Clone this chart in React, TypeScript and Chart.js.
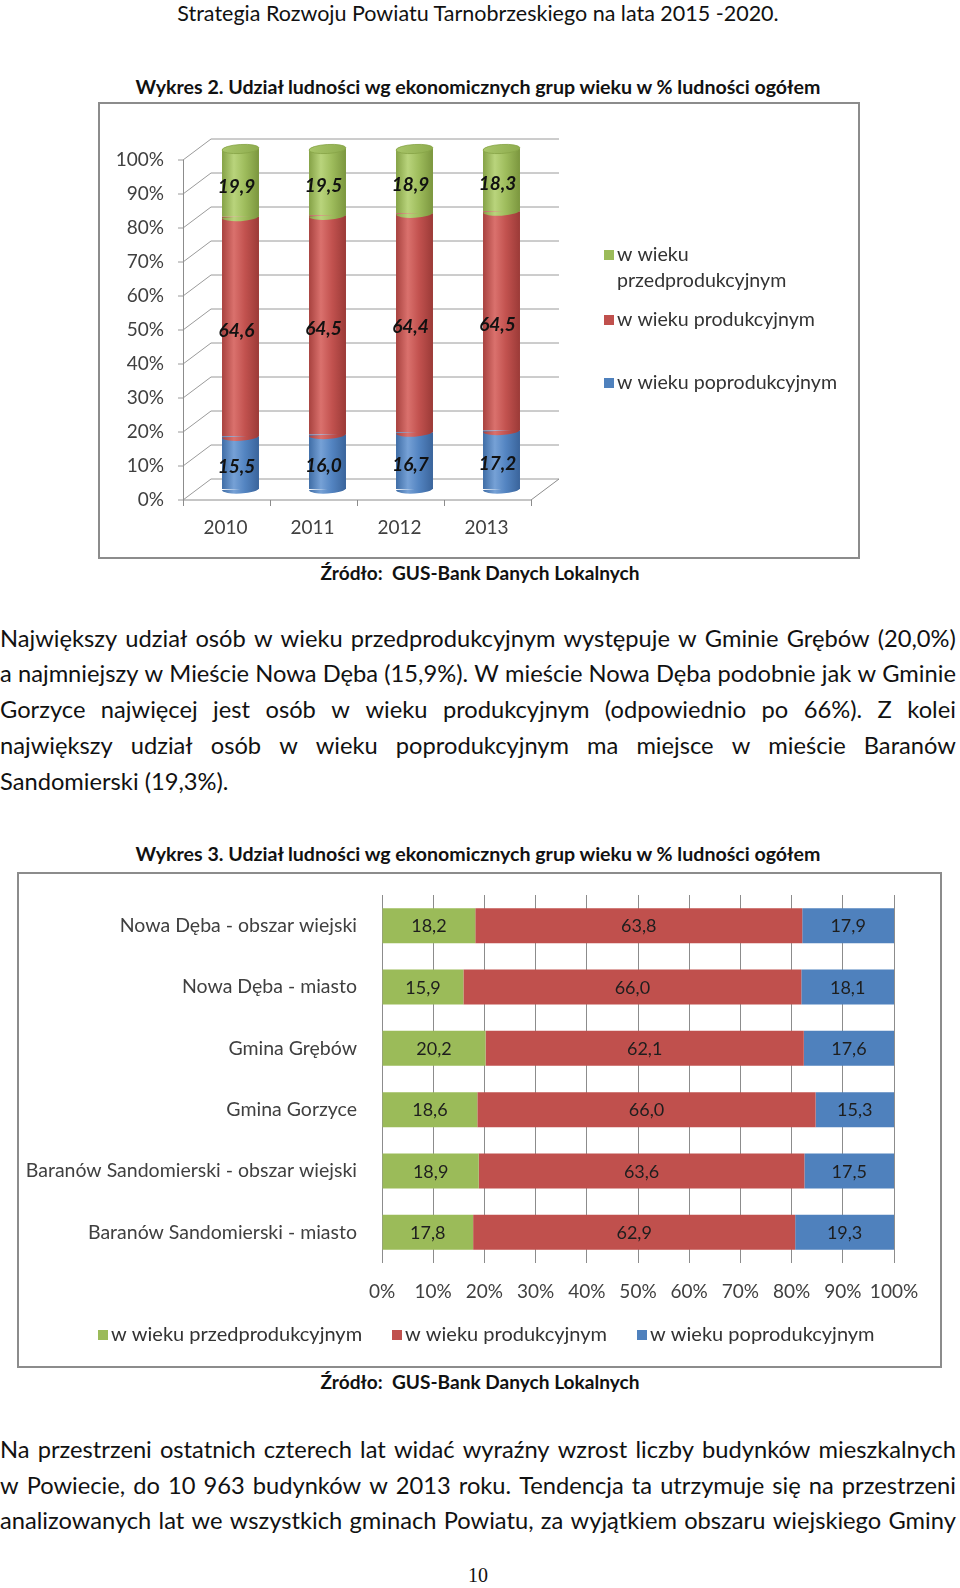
import React, { useEffect, useRef } from "react";
import { Chart, registerables } from "chart.js";

Chart.register(...registerables);

const FONT = "Lato, 'Open Sans', sans-serif";

// ---------- Data: chart 1 (Wykres 2) ----------
const YEARS = ["2010", "2011", "2012", "2013"];
const PRE_1 = [19.9, 19.5, 18.9, 18.3];
const PROD_1 = [64.6, 64.5, 64.4, 64.5];
const POST_1 = [15.5, 16.0, 16.7, 17.2];

// ---------- Data: chart 2 (Wykres 3) ----------
const AREAS = [
  "Nowa Dęba - obszar wiejski",
  "Nowa Dęba - miasto",
  "Gmina Grębów",
  "Gmina Gorzyce",
  "Baranów Sandomierski - obszar wiejski",
  "Baranów Sandomierski - miasto",
];
const PRE_2 = [18.2, 15.9, 20.2, 18.6, 18.9, 17.8];
const PROD_2 = [63.8, 66.0, 62.1, 66.0, 63.6, 62.9];
const POST_2 = [17.9, 18.1, 17.6, 15.3, 17.5, 19.3];

const SERIES = ["w wieku przedprodukcyjnym", "w wieku produkcyjnym", "w wieku poprodukcyjnym"];
const LEGEND1_LINES = [["w wieku", "przedprodukcyjnym"], ["w wieku produkcyjnym"], ["w wieku poprodukcyjnym"]];
const TICK_STEP = 10;

const GREEN = "#9bbb59";
const RED = "#c0504d";
const BLUE = "#4f81bd";
const COLORS = [GREEN, RED, BLUE];
const SHADES = [
  ["#85a246", "#b9d47c", "#9ebc5c", "#7b963e"],
  ["#a8423f", "#da716d", "#c2524f", "#9b3a37"],
  ["#3f6da6", "#76a1d6", "#5384c1", "#3a649b"],
];

const fmt = (v: number) => v.toFixed(1).replace(".", ",");

function cylGrad(ctx: CanvasRenderingContext2D, cx: number, half: number, s: string[]) {
  const g = ctx.createLinearGradient(cx - half, 0, cx + half, 0);
  g.addColorStop(0, s[0]);
  g.addColorStop(0.32, s[1]);
  g.addColorStop(0.62, s[2]);
  g.addColorStop(1, s[3]);
  return g;
}

const noPad = (s: any) => {
  s.paddingTop = 0;
  s.paddingBottom = 0;
  s.paddingLeft = 0;
  s.paddingRight = 0;
};

// ---------- Chart 1 ----------
const BAR_PCT_1 = 0.425;
const DX = 14;
const DY = 10.5;
const RY = 4.5;

// series index in SERIES for chart-1 datasets (bottom to top)
const ORDER_1 = [2, 1, 0];
const VALUES_1 = [POST_1, PROD_1, PRE_1];

const grid3d = {
  id: "grid3d",
  beforeDatasetsDraw(chart: any) {
    const { ctx, chartArea } = chart;
    const ys = chart.scales.y;
    const { left, right } = chartArea;
    ctx.save();
    ctx.strokeStyle = "#9a9a9a";
    ctx.lineWidth = 1;
    for (const t of ys.ticks) {
      const y = Math.round(ys.getPixelForValue(t.value)) + 0.5;
      ctx.beginPath();
      ctx.moveTo(left - DX, y + DY);
      ctx.lineTo(left + DX, y - DY);
      ctx.lineTo(right + DX, y - DY);
      ctx.stroke();
      ctx.beginPath();
      ctx.moveTo(left - DX - 5, y + DY);
      ctx.lineTo(left - DX, y + DY);
      ctx.stroke();
    }
    const y0 = Math.round(ys.getPixelForValue(0)) + 0.5;
    const y100 = Math.round(ys.getPixelForValue(100)) + 0.5;
    ctx.strokeStyle = "#8c8c8c";
    ctx.beginPath();
    ctx.moveTo(Math.round(left - DX) + 0.5, y100 + DY);
    ctx.lineTo(Math.round(left - DX) + 0.5, y0 + DY);
    ctx.lineTo(right - DX, y0 + DY);
    ctx.lineTo(right + DX, y0 - DY);
    ctx.stroke();
    const n = YEARS.length;
    for (let i = 0; i <= n; i++) {
      const x = Math.round(left - DX + (i * (right - left)) / n) + 0.5;
      ctx.beginPath();
      ctx.moveTo(x, y0 + DY);
      ctx.lineTo(x, y0 + DY + 6);
      ctx.stroke();
    }
    ctx.restore();
  },
};

const cylinders = {
  id: "cylinders",
  afterDatasetsDraw(chart: any) {
    const { ctx } = chart;
    const metas = [0, 1, 2].map((i) => chart.getDatasetMeta(i));
    ctx.save();
    for (let j = 0; j < YEARS.length; j++) {
      metas.forEach((m: any, k: number) => {
        const el = m.data[j];
        const p = el.getProps(["x", "y", "base", "width"], true);
        const rx = p.width / 2;
        const s = SHADES[ORDER_1[k]];
        ctx.fillStyle = cylGrad(ctx, p.x, rx, s);
        ctx.beginPath();
        ctx.ellipse(p.x, p.base, rx, RY, -0.06, 0, Math.PI);
        ctx.fill();
        if (k === metas.length - 1) {
          const g = ctx.createLinearGradient(p.x - rx, p.y - RY, p.x + rx, p.y + RY);
          g.addColorStop(0, "#a9c66a");
          g.addColorStop(1, "#8dab4d");
          ctx.fillStyle = g;
          ctx.beginPath();
          ctx.ellipse(p.x, p.y, rx, RY, -0.06, 0, Math.PI * 2);
          ctx.fill();
          ctx.strokeStyle = "#86a346";
          ctx.lineWidth = 0.8;
          ctx.stroke();
        }
      });
    }
    // data labels
    ctx.font = `italic bold 19px ${FONT}`;
    ctx.fillStyle = "#111";
    ctx.textAlign = "center";
    ctx.textBaseline = "middle";
    metas.forEach((m: any, k: number) => {
      m.data.forEach((el: any, j: number) => {
        const p = el.getProps(["x", "y", "base"], true);
        ctx.fillText(fmt(VALUES_1[k][j]), p.x - 4, (p.y + p.base) / 2 + 4);
      });
    });
    ctx.restore();
  },
};

const legend1 = {
  id: "legend1",
  afterDraw(chart: any) {
    const { ctx } = chart;
    const items = [
      { y: 151, color: GREEN, lines: LEGEND1_LINES[0] },
      { y: 216, color: RED, lines: LEGEND1_LINES[1] },
      { y: 279, color: BLUE, lines: LEGEND1_LINES[2] },
    ];
    ctx.save();
    ctx.font = `19.6px ${FONT}`;
    ctx.textAlign = "left";
    ctx.textBaseline = "middle";
    for (const it of items) {
      ctx.fillStyle = it.color;
      ctx.fillRect(504, it.y - 5, 10, 10);
      ctx.fillStyle = "#333";
      it.lines.forEach((ln, i) => ctx.fillText(ln, 517, it.y + i * 26));
    }
    ctx.restore();
  },
};

function Chart1() {
  const ref = useRef<HTMLCanvasElement>(null);
  useEffect(() => {
    const fill = (k: number) => (c: any) => {
      const chart = c.chart;
      if (!chart.chartArea || c.type !== "data") return COLORS[ORDER_1[k]];
      const xs = chart.scales.x;
      const cx = xs.getPixelForValue(c.dataIndex);
      const half = ((xs.width / YEARS.length) * BAR_PCT_1) / 2;
      return cylGrad(chart.ctx, cx, half, SHADES[ORDER_1[k]]);
    };
    const chart = new Chart(ref.current as HTMLCanvasElement, {
      type: "bar",
      data: {
        labels: YEARS,
        datasets: VALUES_1.map((vals, k) => ({
          label: SERIES[ORDER_1[k]],
          data: vals,
          backgroundColor: fill(k),
          borderWidth: 0,
        })),
      },
      options: {
        responsive: false,
        animation: false,
        layout: { padding: { left: 0, right: 313, top: 45, bottom: 0 } },
        plugins: { legend: { display: false }, tooltip: { enabled: false } },
        datasets: { bar: { categoryPercentage: 1, barPercentage: BAR_PCT_1 } },
        scales: {
          x: {
            stacked: true,
            grid: { display: false, drawTicks: false },
            border: { display: false },
            ticks: {
              font: { family: FONT, size: 19 },
              color: "#404040",
              padding: 27,
              labelOffset: -15,
              maxRotation: 0,
              minRotation: 0,
            },
            afterFit: (s: any) => {
              s.height = 68;
              noPad(s);
            },
          },
          y: {
            stacked: true,
            min: 0,
            max: 100,
            grid: { display: false, drawTicks: false },
            border: { display: false },
            ticks: {
              stepSize: TICK_STEP,
              callback: (v: any) => v + "%",
              font: { family: FONT, size: 19 },
              color: "#404040",
              padding: 33,
              labelOffset: 11,
            },
            afterFit: (s: any) => {
              s.width = 97;
              noPad(s);
            },
          },
        },
      } as any,
      plugins: [grid3d, cylinders, legend1],
    });
    return () => chart.destroy();
  }, []);
  return <canvas ref={ref} width={758} height={453} style={{ width: 758, height: 453, display: "block" }} />;
}

// ---------- Chart 2 ----------
const labels2 = {
  id: "labels2",
  afterDatasetsDraw(chart: any) {
    const { ctx } = chart;
    const raw = [PRE_2, PROD_2, POST_2];
    ctx.save();
    ctx.font = `18px ${FONT}`;
    ctx.fillStyle = "#1e1e1e";
    ctx.textAlign = "center";
    ctx.textBaseline = "middle";
    [0, 1, 2].forEach((k) => {
      chart.getDatasetMeta(k).data.forEach((el: any, j: number) => {
        const p = el.getProps(["x", "y", "base"], true);
        ctx.fillText(fmt(raw[k][j]), (p.x + p.base) / 2, p.y + 1);
      });
    });
    ctx.restore();
  },
};

const legend2 = {
  id: "legend2",
  afterDraw(chart: any) {
    const { ctx } = chart;
    const xs = [79, 373, 618];
    ctx.save();
    ctx.font = `20px ${FONT}`;
    ctx.textAlign = "left";
    ctx.textBaseline = "middle";
    SERIES.forEach((name, k) => {
      ctx.fillStyle = COLORS[k];
      ctx.fillRect(xs[k], 456, 10, 10);
      ctx.fillStyle = "#333";
      ctx.fillText(name, xs[k] + 13, 461);
    });
    ctx.restore();
  },
};

function Chart2() {
  const ref = useRef<HTMLCanvasElement>(null);
  useEffect(() => {
    const totals = AREAS.map((_, i) => PRE_2[i] + PROD_2[i] + POST_2[i]);
    const pct = (arr: number[]) => arr.map((v, i) => (v / totals[i]) * 100);
    const chart = new Chart(ref.current as HTMLCanvasElement, {
      type: "bar",
      data: {
        labels: AREAS,
        datasets: [PRE_2, PROD_2, POST_2].map((vals, k) => ({
          label: SERIES[k],
          data: pct(vals),
          backgroundColor: COLORS[k],
          borderWidth: 0,
        })),
      },
      options: {
        indexAxis: "y",
        responsive: false,
        animation: false,
        layout: { padding: { left: 0, right: 46, top: 21, bottom: 0 } },
        plugins: { legend: { display: false }, tooltip: { enabled: false } },
        datasets: { bar: { categoryPercentage: 1, barPercentage: 0.57 } },
        scales: {
          x: {
            stacked: true,
            min: 0,
            max: 100,
            grid: { color: "#8c8c8c", drawTicks: false, lineWidth: 1 },
            border: { display: false },
            ticks: {
              stepSize: TICK_STEP,
              callback: (v: any) => v + "%",
              font: { family: FONT, size: 19 },
              color: "#404040",
              padding: 17,
              maxRotation: 0,
              minRotation: 0,
              autoSkip: false,
            },
            afterFit: (s: any) => {
              s.height = 103;
              noPad(s);
            },
          },
          y: {
            stacked: true,
            grid: { display: false, drawTicks: false },
            border: { display: false },
            ticks: { font: { family: FONT, size: 19.5 }, color: "#404040", padding: 25 },
            afterFit: (s: any) => {
              s.width = 363;
              noPad(s);
            },
          },
        },
      } as any,
      plugins: [labels2, legend2],
    });
    return () => chart.destroy();
  }, []);
  return <canvas ref={ref} width={921} height={492} style={{ width: 921, height: 492, display: "block" }} />;
}

// ---------- Page text ----------
const HEADER = "Strategia Rozwoju Powiatu Tarnobrzeskiego na lata 2015 -2020.";
const TITLE_2 = "Wykres 2. Udział ludności wg ekonomicznych grup wieku w % ludności ogółem";
const TITLE_3 = "Wykres 3. Udział ludności wg ekonomicznych grup wieku w % ludności ogółem";
const SOURCE = "Źródło:  GUS-Bank Danych Lokalnych";
const PARA_1 = [
  "Największy udział osób w wieku przedprodukcyjnym występuje w Gminie Grębów (20,0%)",
  "a najmniejszy w Mieście Nowa Dęba (15,9%). W mieście Nowa Dęba podobnie jak w Gminie",
  "Gorzyce najwięcej jest osób w wieku produkcyjnym (odpowiednio po 66%). Z kolei",
  "największy udział osób w wieku poprodukcyjnym ma miejsce w mieście Baranów",
  "Sandomierski (19,3%).",
];
const PARA_2 = [
  "Na przestrzeni ostatnich czterech lat widać wyraźny wzrost liczby budynków mieszkalnych",
  "w Powiecie, do 10 963 budynków w 2013 roku. Tendencja ta utrzymuje się na przestrzeni",
  "analizowanych lat we wszystkich gminach Powiatu, za wyjątkiem obszaru wiejskiego Gminy",
];

const BODY_SIZE = 23.7;

function TextLine(props: {
  y: number;
  size: number;
  bold?: boolean;
  center?: number;
  justify?: boolean;
  family?: string;
  children: string;
}) {
  const lh = Math.round(props.size * 1.4);
  const style: React.CSSProperties = {
    position: "absolute",
    top: props.y - lh / 2,
    height: lh,
    lineHeight: `${lh}px`,
    fontSize: props.size,
    fontFamily: props.family || FONT,
    fontWeight: props.bold ? 700 : 400,
    color: "#111",
    whiteSpace: "pre",
  };
  if (props.center !== undefined) {
    style.left = props.center - 480;
    style.width = 960;
    style.textAlign = "center";
    return <div style={style}>{props.children}</div>;
  }
  style.left = 0;
  style.width = 956;
  if (props.justify) {
    style.display = "flex";
    style.justifyContent = "space-between";
    return (
      <div style={style}>
        {props.children.split(" ").map((w, i) => (
          <span key={i}>{w}</span>
        ))}
      </div>
    );
  }
  return <div style={style}>{props.children}</div>;
}

export default function App() {
  const p1y = [638, 673.5, 709, 745, 781];
  const p2y = [1449, 1485, 1520];
  return (
    <div
      style={{
        position: "absolute",
        left: 0,
        top: 0,
        width: 960,
        height: 1588,
        background: "#fff",
        overflow: "hidden",
      }}
    >
      <TextLine y={13} size={21.5} center={478}>
        {HEADER}
      </TextLine>
      <TextLine y={86} size={19.6} bold center={478}>
        {TITLE_2}
      </TextLine>

      <div
        style={{
          position: "absolute",
          left: 98,
          top: 102,
          width: 758,
          height: 453,
          border: "2px solid #8c8c8c",
        }}
      >
        <Chart1 />
      </div>

      <TextLine y={572} size={19.1} bold center={480}>
        {SOURCE}
      </TextLine>

      {PARA_1.map((t, i) => (
        <TextLine key={i} y={p1y[i]} size={BODY_SIZE} justify={i < PARA_1.length - 1}>
          {t}
        </TextLine>
      ))}

      <TextLine y={853} size={19.6} bold center={478}>
        {TITLE_3}
      </TextLine>

      <div
        style={{
          position: "absolute",
          left: 17,
          top: 872,
          width: 921,
          height: 492,
          border: "2px solid #8c8c8c",
        }}
      >
        <Chart2 />
      </div>

      <TextLine y={1381} size={19.1} bold center={480}>
        {SOURCE}
      </TextLine>

      {PARA_2.map((t, i) => (
        <TextLine key={i} y={p2y[i]} size={BODY_SIZE} justify>
          {t}
        </TextLine>
      ))}

      <TextLine y={1575} size={20} center={478} family="'Liberation Serif', serif">
        10
      </TextLine>
    </div>
  );
}
